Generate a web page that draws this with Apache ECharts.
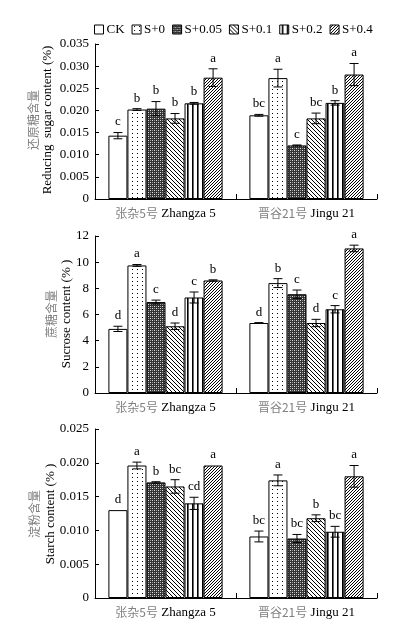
<!DOCTYPE html>
<html><head><meta charset="utf-8">
<script src="https://cdn.jsdelivr.net/npm/echarts@6/dist/echarts.min.js"></script>
<style>html,body{margin:0;padding:0;background:#fff}#c{width:393px;height:633px}</style>
</head><body><div id="c"></div>
<script>
// ---------- DATA ----------
const seriesNames = ['CK', 'S+0', 'S+0.05', 'S+0.1', 'S+0.2', 'S+0.4'];
const categories = ['张杂5号|Zhangza 5', '晋谷21号|Jingu 21'];

// Panel 1: reducing sugar content (%)  [Zhangza 5, Jingu 21]
const reducingVals = [[0.0143, 0.0189], [0.0202, 0.0273], [0.0204, 0.0121], [0.0182, 0.0182], [0.0216, 0.0217], [0.0274, 0.0281]];
const reducingErr  = [[0.0007, 0.0002], [0.0002, 0.0020], [0.0016, 0.0001], [0.0011, 0.0012], [0.0002, 0.0005], [0.0020, 0.0025]];
const reducingSig  = [['c', 'bc'], ['b', 'a'], ['b', 'c'], ['b', 'bc'], ['b', 'b'], ['a', 'a']];

// Panel 2: sucrose content (%)
const sucroseVals = [[4.9, 5.35], [9.75, 8.4], [6.95, 7.55], [5.1, 5.35], [7.3, 6.4], [8.6, 11.05]];
const sucroseErr  = [[0.2, 0.03], [0.07, 0.34], [0.15, 0.32], [0.25, 0.28], [0.42, 0.28], [0.05, 0.25]];
const sucroseSig  = [['d', 'd'], ['a', 'b'], ['c', 'c'], ['d', 'd'], ['c', 'c'], ['b', 'a']];

// Panel 3: starch content (%)
const starchVals = [[0.0130, 0.0091], [0.0196, 0.0174], [0.0171, 0.0088], [0.0165, 0.0118], [0.0140, 0.0098], [0.0196, 0.0180]];
const starchErr  = [[0, 0.0008], [0.0005, 0.0008], [0.0001, 0.0006], [0.0010, 0.0005], [0.0009, 0.0008], [0, 0.0016]];
const starchSig  = [['d', 'bc'], ['a', 'a'], ['b', 'bc'], ['bc', 'b'], ['cd', 'bc'], ['a', 'a']];

const yTitlesCn = ['还原糖含量', '蔗糖含量', '淀粉含量'];
const yTitlesEn = ['Reducing  sugar content (%)', 'Sucrose content (% )', 'Starch content (% )'];
const yMax = [0.035, 12, 0.025];
const yInterval = [0.005, 2, 0.005];
const yDecimals = [3, 0, 3];

// ---------- STYLE ----------
const SERIF = 'Liberation Serif, Times New Roman, serif';
const CJK = 'Noto Sans CJK SC, sans-serif';
const GRAY = '#808080';
const CAT_GAP = 0.19;

function tile(w, h, draw) {
  const c = document.createElement('canvas'); c.width = w; c.height = h;
  const g = c.getContext('2d'); g.fillStyle = '#fff'; g.fillRect(0, 0, w, h);
  g.fillStyle = '#000'; draw(g); return { image: c, repeat: 'repeat' };
}
const fills = [
  '#ffffff',
  tile(5, 4, g => { g.fillRect(2, 1, 1, 1); }),
  tile(4, 4, g => { g.fillStyle = '#333'; g.fillRect(0, 0, 4, 4); g.fillStyle = '#e0e0e0'; g.fillRect(0, 0, 1, 1); g.fillRect(2, 2, 1, 1); g.fillStyle = '#999'; g.fillRect(2, 0, 1, 1); g.fillRect(0, 2, 1, 1); }),
  tile(4, 4, g => { for (let i = 0; i < 4; i++) g.fillRect(i, i, 1, 1); }),
  tile(5, 5, g => { g.fillRect(2, 0, 1.6, 5); }),
  tile(3, 3, g => { for (let i = 0; i < 3; i++) g.fillRect(2 - i, i, 1, 1); })
];

const panels = [
  { vals: reducingVals, err: reducingErr, sig: reducingSig },
  { vals: sucroseVals, err: sucroseErr, sig: sucroseSig },
  { vals: starchVals, err: starchErr, sig: starchSig }
];
const grids = [
  { left: 95, right: 16, top: 44, height: 155 },
  { left: 95, right: 16, top: 236, height: 157 },
  { left: 95, right: 16, top: 429, height: 169 }
];
// y-axis title placement (x of Chinese line, x of English line, vertical centre)
const titlePos = [[33, 48, 120], [51, 67, 314], [34, 51, 514]];

const xAxes = [], yAxes = [], series = [], graphics = [];
panels.forEach((p, pi) => {
  xAxes.push({
    type: 'category', gridIndex: pi, data: categories,
    axisLine: { lineStyle: { color: '#000', width: 1 } },
    axisTick: { show: true, inside: true, length: 5, lineStyle: { color: '#000' } },
    axisLabel: {
      margin: 8, interval: 0, hideOverlap: false,
      formatter: v => { const s = v.split('|'); return '{cn|' + s[0] + '} {en|' + s[1] + '}'; },
      rich: { cn: { fontFamily: CJK, fontSize: 12, color: GRAY }, en: { fontFamily: SERIF, fontSize: 13, color: '#000' } }
    }
  });
  yAxes.push({
    type: 'value', gridIndex: pi, min: 0, max: yMax[pi], interval: yInterval[pi],
    axisLine: { show: true, lineStyle: { color: '#000', width: 1 } },
    axisTick: { show: true, inside: true, length: 4, lineStyle: { color: '#000' } },
    splitLine: { show: false },
    axisLabel: { fontFamily: SERIF, fontSize: 13, color: '#000', margin: 6,
      formatter: v => v === 0 ? '0' : v.toFixed(yDecimals[pi]) }
  });
  const tp = titlePos[pi];
  graphics.push({ type: 'text', x: tp[0], y: tp[2], rotation: Math.PI / 2, silent: true,
    style: { text: yTitlesCn[pi], textAlign: 'center', textVerticalAlign: 'middle', font: '12px ' + CJK, fill: GRAY } });
  graphics.push({ type: 'text', x: tp[1], y: tp[2], rotation: Math.PI / 2, silent: true,
    style: { text: yTitlesEn[pi], textAlign: 'center', textVerticalAlign: 'middle', font: '13px ' + SERIF, fill: '#000' } });
  seriesNames.forEach((n, si) => {
    series.push({
      name: n, type: 'bar', xAxisIndex: pi, yAxisIndex: pi,
      data: p.vals[si], barGap: '0%', barCategoryGap: (CAT_GAP * 100) + '%',
      itemStyle: { color: fills[si], borderColor: '#000', borderWidth: 1 },
      emphasis: { disabled: true }
    });
  });
  const eData = [], eSig = [];
  seriesNames.forEach((n, si) => categories.forEach((c, ci) => {
    eData.push([ci, si, p.vals[si][ci], p.err[si][ci]]);
    eSig.push(p.sig[si][ci]);
  }));
  series.push({
    type: 'custom', xAxisIndex: pi, yAxisIndex: pi, z: 5, data: eData,
    encode: { x: 0, y: 2 },
    renderItem: (params, api) => {
      const ci = api.value(0), si = api.value(1), v = api.value(2), e = api.value(3);
      const band = api.size([1, 0])[0];
      const bw = band * (1 - CAT_GAP) / 6;
      const cx = api.coord([ci, 0])[0] + (si - 2.5) * bw;
      const yt = api.coord([ci, v + e])[1], yb = api.coord([ci, v - e])[1];
      const cap = 4.5;
      const children = [];
      if (e > 0) {
        const ls = { stroke: '#000', lineWidth: 1 };
        children.push({ type: 'line', shape: { x1: cx, y1: yt, x2: cx, y2: yb }, style: ls });
        children.push({ type: 'line', shape: { x1: cx - cap, y1: yt, x2: cx + cap, y2: yt }, style: ls });
        children.push({ type: 'line', shape: { x1: cx - cap, y1: yb, x2: cx + cap, y2: yb }, style: ls });
      }
      children.push({ type: 'text', style: { text: eSig[params.dataIndex], x: cx, y: yt - 4, textAlign: 'center', textVerticalAlign: 'bottom', font: '13px ' + SERIF, fill: '#000' } });
      return { type: 'group', children };
    }
  });
});

const chart = echarts.init(document.getElementById('c'), null, { renderer: 'canvas' });
chart.setOption({
  animation: false,
  backgroundColor: '#fff',
  legend: {
    data: seriesNames, left: 94, top: 23, padding: 0, itemWidth: 9, itemHeight: 9, itemGap: 7,
    icon: 'rect', textStyle: { fontFamily: SERIF, fontSize: 13, color: '#000', padding: [0, 0, 0, -2] },
    itemStyle: { borderColor: '#000', borderWidth: 1 }
  },
  grid: grids,
  xAxis: xAxes,
  yAxis: yAxes,
  graphic: graphics,
  series
});
</script></body></html>
